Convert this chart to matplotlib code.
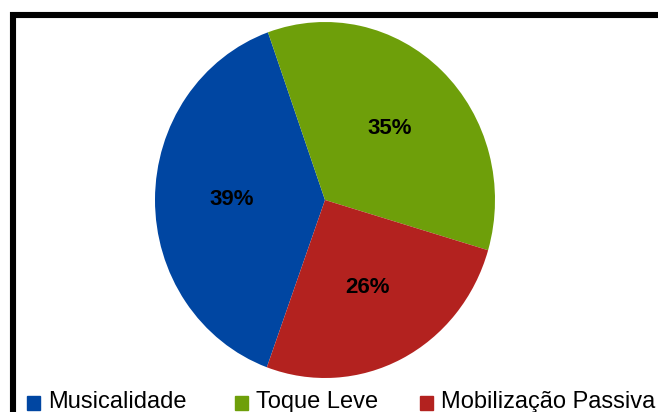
import matplotlib.pyplot as plt
from matplotlib.patches import Rectangle

plt.rcParams['font.family'] = ['Liberation Sans', 'DejaVu Sans']

# dados do grafico
categorias = ['Musicalidade', 'Toque Leve', 'Mobilização Passiva']
valores = [39, 35, 26]
cores = ['#0046A2', '#6E9F0A', '#B3221F']

W, H = 658, 412
fig = plt.figure(figsize=(W / 100, H / 100), dpi=100)

# pizza um pouco mais alta do que larga
cx, cy, rx, ry = 325, 200, 170, 178
ax = fig.add_axes([(cx - rx) / W, (H - cy - ry) / H, 2 * rx / W, 2 * ry / H])
wedges, textos = ax.pie(valores, colors=cores, startangle=250, counterclock=False,
                        labels=['%d%%' % v for v in valores], labeldistance=0.55,
                        wedgeprops=dict(linewidth=0),
                        textprops=dict(fontsize=16, fontweight='bold', color='black',
                                       ha='center', va='center'))
ax.set_aspect('auto')
ax.set_xlim(-1, 1)
ax.set_ylim(-1, 1)

# moldura preta (lados direito e inferior ficam fora da imagem)
fig.patches.append(Rectangle((12.5 / W, -0.1), 1.2, 1.1 - 15 / H,
                             transform=fig.transFigure, fill=False,
                             edgecolor='black', linewidth=4.4))

# legenda na parte de baixo
pos_x = [27, 235, 420]
for x, nome, cor in zip(pos_x, categorias, cores):
    fig.patches.append(Rectangle((x / W, (H - 410) / H), 13 / W, 14 / H,
                                 transform=fig.transFigure, color=cor))
    fig.text((x + 21) / W, (H - 408) / H, nome, fontsize=17, va='baseline',
             ha='left', color='black')

fig.savefig('out.png', dpi=100)
